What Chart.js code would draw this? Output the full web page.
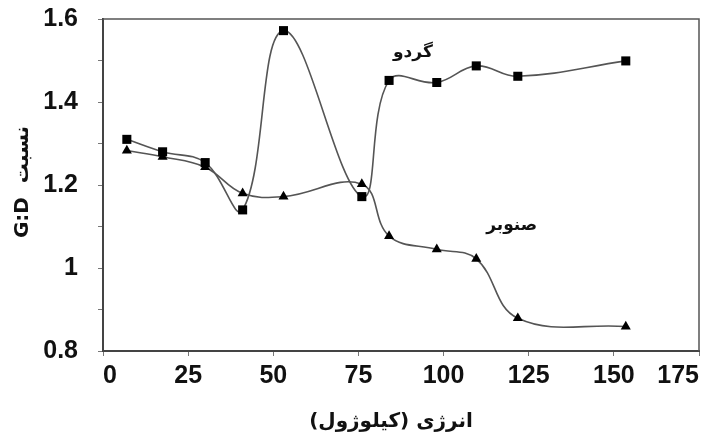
<!DOCTYPE html>
<html>
<head>
<meta charset="utf-8">
<script src="https://cdn.jsdelivr.net/npm/chart.js@4.4.1/dist/chart.umd.min.js"></script>
<style>
  html, body { margin: 0; padding: 0; background: #fff; }
  #wrap { width: 717px; height: 439px; }
</style>
</head>
<body>
<div id="wrap"><canvas id="gdChart" width="717" height="439"></canvas></div>
<script>
    // energy (kJ) at each sample
    const energy = [7, 17.5, 30, 41, 53, 76, 84, 98, 109.6, 121.8, 153.5];
    // G:D ratio, walnut (squares)
    const walnut = [1.31, 1.28, 1.254, 1.14, 1.572, 1.172, 1.452, 1.447, 1.487, 1.462, 1.499];
    // G:D ratio, poplar (triangles)
    const poplar = [1.283, 1.268, 1.243, 1.18, 1.172, 1.202, 1.077, 1.045, 1.022, 0.879, 0.859];

    const xTitle = 'انرژی (کیلوژول)\u200F';
    const yTitle = 'G:D  نسبت';
    const seriesLabels = [
        { text: 'گردو', x: 91, y: 1.52 },
        { text: 'صنوبر', x: 120, y: 1.103 }
    ];

    const tickFont = { family: 'Liberation Sans, Arial, sans-serif', size: 25, weight: 'bold' };

    function toPoints(values) {
        return values.map((v, i) => ({ x: energy[i], y: v }));
    }

    const textPlugin = {
        id: 'extraText',
        afterDraw(chart) {
            const ctx = chart.ctx;
            const area = chart.chartArea;
            const xs = chart.scales.x;
            const ys = chart.scales.y;

            // top and right frame
            ctx.save();
            ctx.strokeStyle = '#555';
            ctx.lineWidth = 1.5;
            ctx.beginPath();
            ctx.moveTo(area.left, area.top);
            ctx.lineTo(area.right, area.top);
            ctx.lineTo(area.right, area.bottom);
            ctx.stroke();

            ctx.fillStyle = '#111';
            ctx.textAlign = 'center';
            ctx.textBaseline = 'middle';

            // series labels
            ctx.font = 'bold 17px "DejaVu Sans", sans-serif';
            seriesLabels.forEach(l => {
                ctx.fillText(l.text, xs.getPixelForValue(l.x), ys.getPixelForValue(l.y));
            });

            // x axis title
            ctx.font = 'bold 20px "DejaVu Sans", sans-serif';
            ctx.fillText(xTitle, 391, 422);

            // y axis title
            ctx.translate(23, 182);
            ctx.rotate(-Math.PI / 2);
            ctx.font = 'bold 20px "DejaVu Sans", sans-serif';
            ctx.fillText(yTitle, 0, 0);
            ctx.restore();
        }
    };

    new Chart(document.getElementById('gdChart'), {
        type: 'line',
        data: {
            datasets: [
                {
                    label: 'walnut',
                    data: toPoints(walnut),
                    borderColor: '#555',
                    borderWidth: 1.6,
                    tension: 0.4,
                    pointStyle: 'rect',
                    pointRadius: 6.4,
                    pointBackgroundColor: '#000',
                    pointBorderColor: '#000',
                    pointBorderWidth: 0
                },
                {
                    label: 'poplar',
                    data: toPoints(poplar),
                    borderColor: '#555',
                    borderWidth: 1.6,
                    tension: 0.4,
                    pointStyle: 'triangle',
                    pointRadius: 5.8,
                    pointBackgroundColor: '#000',
                    pointBorderColor: '#000',
                    pointBorderWidth: 0
                }
            ]
        },
        options: {
            responsive: false,
            animation: false,
            layout: { padding: { top: 19, right: 18, left: 0, bottom: 0 } },
            plugins: {
                legend: { display: false },
                tooltip: { enabled: false }
            },
            scales: {
                x: {
                    type: 'linear',
                    min: 0,
                    max: 175,
                    afterFit: function(scale) {
                        scale.height = 88;
                        scale.paddingLeft = 0;
                        scale.paddingRight = 0;
                    },
                    border: { color: '#444', width: 2 },
                    grid: { drawOnChartArea: false, tickLength: 5, color: '#777' },
                    ticks: {
                        stepSize: 25,
                        padding: 5,
                        align: 'inner',
                        color: '#111',
                        font: tickFont
                    }
                },
                y: {
                    min: 0.8,
                    max: 1.6,
                    afterFit: function(scale) {
                        scale.width = 103;
                        scale.paddingTop = 0;
                        scale.paddingBottom = 0;
                    },
                    border: { color: '#444', width: 2 },
                    grid: { drawOnChartArea: false, tickLength: 5, color: '#777' },
                    ticks: {
                        stepSize: 0.1,
                        padding: 20,
                        color: '#111',
                        font: tickFont,
                        autoSkip: false,
                        callback: function(value) {
                            const tenths = Math.round(value * 10);
                            if (tenths % 2 !== 0) return '';
                            return String(Number(value.toFixed(1)));
                        }
                    }
                }
            }
        },
        plugins: [textPlugin]
    });
</script>
</body>
</html>
